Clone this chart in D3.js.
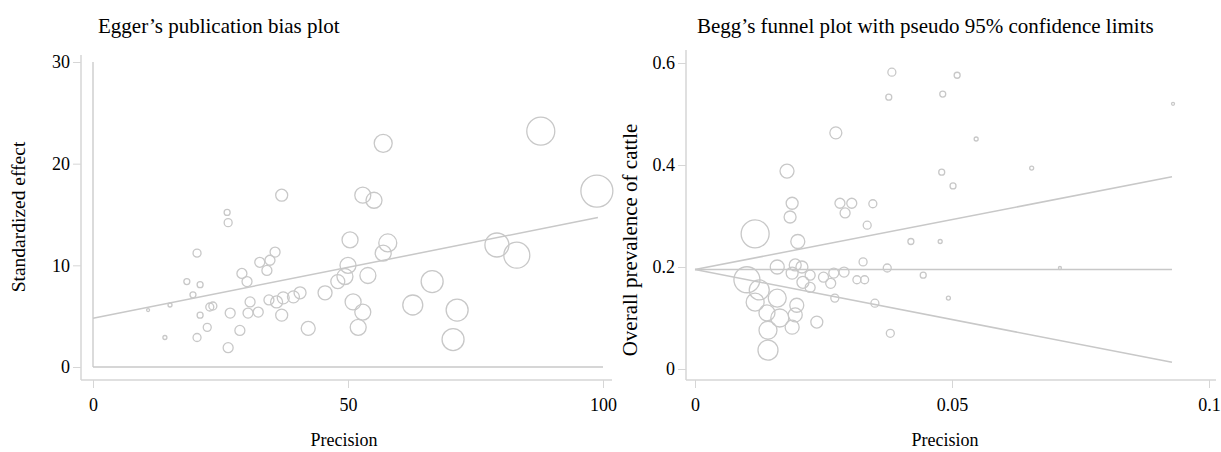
<!DOCTYPE html>
<html><head><meta charset="utf-8">
<script src="https://cdn.jsdelivr.net/npm/d3@7"></script>
<style>
body{margin:0;background:#fff;}
svg text{font-family:"Liberation Serif","Times New Roman",Times,serif !important;fill:#000;}
</style></head>
<body><svg id="c" width="1221" height="452"></svg>
<script>
// ---- Egger's plot data: precision, standardized effect, weight ----
const eggerPrecision = [87.8,98.8,56.9,52.9,55.1,37.0,26.3,26.5,50.4,57.8,56.9,79.2,83.1,50.0,49.4,53.9,66.5,45.5,48.0,51.0,52.9,62.7,71.4,52.0,70.6,42.2,40.6,20.4,29.2,30.2,32.7,34.7,34.1,35.7,18.4,21.0,19.6,22.9,21.0,26.9,30.8,30.4,32.4,22.4,28.8,20.4,14.1,26.5,37.0,36.0,37.3,39.3,10.8,15.1,23.5,34.5];
const eggerEffect    = [23.2,17.3,22.0,16.9,16.4,16.9,15.2,14.2,12.5,12.2,11.2,12.0,11.0,10.0,8.9,9.0,8.4,7.3,8.4,6.4,5.4,6.1,5.6,3.9,2.7,3.8,7.3,11.2,9.2,8.4,10.3,10.5,9.5,11.3,8.4,8.1,7.1,5.9,5.1,5.3,6.4,5.3,5.4,3.9,3.6,2.9,2.9,1.9,5.1,6.4,6.8,6.9,5.6,6.1,6.0,6.6];
const eggerWeight    = [14,16,9,8,8,6,3,4,8,9,8,12,13,8,8,8,11,7,7,8,8,10,11,8,11,7,6,4,5,5,5,5,5,5,3,3,3,4,3,5,5,5,5,4,5,4,2,5,6,6,6,6,1.5,2,4,5];
const eggerFit = {intercept: 4.8, slope: 0.1, xMax: 99};
const eggerXTicks = [0,50,100];
const eggerYTicks = [0,10,20,30];

// ---- Begg's funnel data: s.e., prevalence, weight ----
const beggSE   = [0.093,0.0383,0.0377,0.0274,0.0179,0.0189,0.0185,0.0282,0.0305,0.0346,0.0292,0.0335,0.0117,0.020,0.051,0.0482,0.0547,0.048,0.0502,0.0655,0.042,0.0477,0.071,0.0444,0.0493,0.0327,0.0374,0.0101,0.016,0.0195,0.0208,0.0189,0.0224,0.025,0.0270,0.029,0.0315,0.033,0.0224,0.0264,0.0272,0.035,0.038,0.0117,0.016,0.014,0.0165,0.0198,0.0195,0.0189,0.0237,0.0142,0.0142,0.0125,0.0210];
const beggPrev = [0.52,0.582,0.533,0.463,0.388,0.325,0.298,0.325,0.325,0.324,0.306,0.282,0.265,0.25,0.576,0.539,0.451,0.386,0.359,0.394,0.25,0.25,0.198,0.184,0.139,0.21,0.198,0.175,0.20,0.204,0.20,0.188,0.184,0.18,0.188,0.19,0.175,0.175,0.16,0.168,0.139,0.129,0.07,0.131,0.139,0.11,0.10,0.125,0.106,0.082,0.092,0.076,0.037,0.155,0.17];
const beggWeight = [1.5,4,3,6,7,6,6,5,5,4,5,4,14,7,3,3,2,3,3,2,3,2,1.5,3,2,4,4,13,7,6,6,6,5,5,5,5,4,4,5,5,4,4,4,9,9,8,9,7,7,7,6,9,10,10,6];
const beggFunnel = {theta: 0.195, z: 1.96, seMax: 0.0928};
const beggXTicks = [0,0.05,0.1];
const beggYTicks = [0,0.2,0.4,0.6];

const FONT = '"Liberation Serif","Times New Roman",Times,serif';
const svg = d3.select("#c").attr("font-family", FONT);
const markCol = "#c8c8c8", axisCol = "#d6d6d6";
const rScale = d3.scaleLinear().domain([0,16]).range([0,16]);

function panel(o){
  const g = svg.append("g");
  const x = d3.scaleLinear().domain(o.xDom).range(o.xRange);
  const y = d3.scaleLinear().domain(o.yDom).range(o.yRange);
  const xa = g.append("g").attr("transform",`translate(0,${o.axisY})`)
    .call(d3.axisBottom(x).tickValues(o.xTicks).tickSize(8).tickPadding(10).tickFormat(o.xFmt));
  const ya = g.append("g").attr("transform",`translate(${o.axisX},0)`)
    .call(d3.axisLeft(y).tickValues(o.yTicks).tickSize(8).tickPadding(3).tickFormat(o.yFmt));
  [xa,ya].forEach(a=>{
    a.attr("font-family", FONT);
    a.select(".domain").remove();
    a.selectAll("line").attr("stroke",axisCol);
    a.selectAll("text").style("font-size","18px").attr("font-family",FONT).attr("fill","#000");
  });
  g.append("line").attr("x1",o.axisX).attr("x2",o.axisX).attr("y1",o.axisTop).attr("y2",o.axisY).attr("stroke",axisCol).attr("stroke-width",1.5);
  g.append("line").attr("x1",o.axisX).attr("x2",o.axisRight).attr("y1",o.axisY).attr("y2",o.axisY).attr("stroke",axisCol).attr("stroke-width",1.5);
  g.append("text").attr("x",o.titleX).attr("y",33).attr("font-family",FONT).style("font-size",o.titleSize+"px").text(o.title);
  g.append("text").attr("x",o.xLabelX).attr("y",446).attr("text-anchor","middle").attr("font-family",FONT).style("font-size","18px").text(o.xLabel);
  g.append("text").attr("transform",`translate(${o.yLabelX},${o.yLabelY}) rotate(-90)`).attr("text-anchor","middle").attr("font-family",FONT).style("font-size",o.yLabelSize+"px").text(o.yLabel);
  return {g,x,y};
}

// Egger
const L = panel({xDom:[0,100], xRange:[93,603], yDom:[0,30], yRange:[367,62],
  axisX:81, axisY:380, axisTop:55, axisRight:612, xTicks:eggerXTicks, yTicks:eggerYTicks,
  xFmt:d3.format("d"), yFmt:d3.format("d"),
  title:"Egger\u2019s publication bias plot", titleX:98, titleSize:21, xLabel:"Precision", xLabelX:344,
  yLabel:"Standardized effect", yLabelX:25, yLabelY:217, yLabelSize:19.5});
L.g.append("line").attr("x1",L.x(0)).attr("x2",L.x(0)).attr("y1",L.y(30)).attr("y2",L.y(0)).attr("stroke",markCol).attr("stroke-width",1.3);
L.g.append("line").attr("x1",L.x(0)).attr("x2",L.x(100)).attr("y1",L.y(0)).attr("y2",L.y(0)).attr("stroke",markCol).attr("stroke-width",1.3);
L.g.append("line").attr("x1",L.x(0)).attr("x2",L.x(eggerFit.xMax))
  .attr("y1",L.y(eggerFit.intercept)).attr("y2",L.y(eggerFit.intercept+eggerFit.slope*eggerFit.xMax))
  .attr("stroke",markCol).attr("stroke-width",1.5);
L.g.selectAll("circle.e").data(eggerPrecision.map((p,i)=>({x:p,y:eggerEffect[i],w:eggerWeight[i]})))
  .join("circle").attr("cx",d=>L.x(d.x)).attr("cy",d=>L.y(d.y)).attr("r",d=>rScale(d.w))
  .attr("fill","none").attr("stroke",markCol).attr("stroke-width",1.3);

// Begg
const R = panel({xDom:[0,0.1], xRange:[695,1209], yDom:[0,0.6], yRange:[369,63],
  axisX:686, axisY:380, axisTop:50, axisRight:1216, xTicks:beggXTicks, yTicks:beggYTicks,
  xFmt:d=>d===0?"0":String(d), yFmt:d=>d===0?"0":d3.format(".1f")(d),
  title:"Begg\u2019s funnel plot with pseudo 95% confidence limits", titleX:697, titleSize:21, xLabel:"Precision", xLabelX:945,
  yLabel:"Overall prevalence of cattle", yLabelX:637, yLabelY:240, yLabelSize:21});
const f = beggFunnel;
[[f.theta,f.theta],[f.theta,f.theta+f.z*f.seMax],[f.theta,f.theta-f.z*f.seMax]].forEach(([a,b])=>{
  R.g.append("line").attr("x1",R.x(0)).attr("x2",R.x(f.seMax)).attr("y1",R.y(a)).attr("y2",R.y(b))
    .attr("stroke",markCol).attr("stroke-width",1.5);
});
R.g.selectAll("circle.b").data(beggSE.map((s,i)=>({x:s,y:beggPrev[i],w:beggWeight[i]})))
  .join("circle").attr("cx",d=>R.x(d.x)).attr("cy",d=>R.y(d.y)).attr("r",d=>rScale(d.w))
  .attr("fill","none").attr("stroke",markCol).attr("stroke-width",1.3);
</script></body></html>
